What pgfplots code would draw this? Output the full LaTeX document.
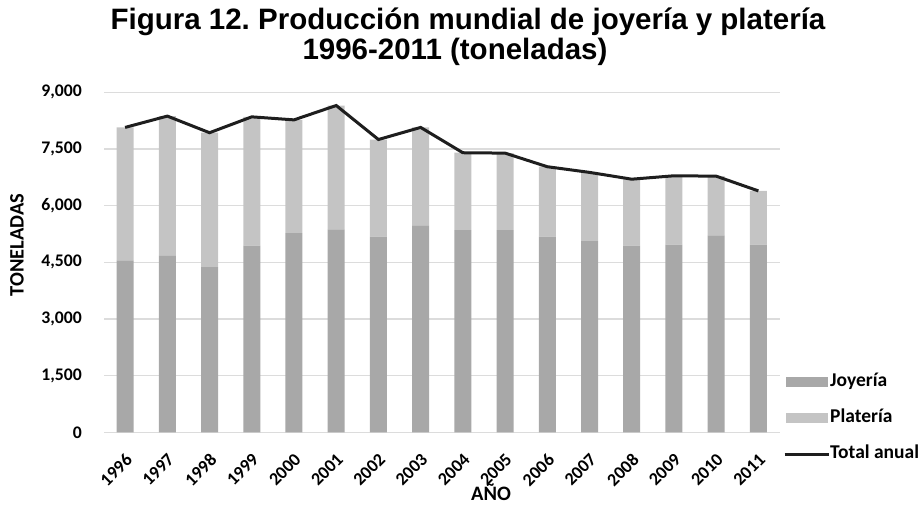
\documentclass[border=0pt]{standalone}
\usepackage{fontspec}
\setmainfont{Carlito}
\newfontfamily\titlefont{Liberation Sans}
\usepackage{pgfplots}
\pgfplotsset{compat=1.18}
\definecolor{joy}{RGB}{168,168,168}
\definecolor{pla}{RGB}{196,196,196}
\definecolor{gridc}{RGB}{220,220,220}
\definecolor{tot}{RGB}{30,30,30}
\pgfplotsset{common/.style={scale only axis, width=675.5pt, height=340pt,
  at={(104pt,73.7pt)}, anchor=south west, xmin=-0.5, xmax=15.5, ymin=0, ymax=9000},
  joyleg/.style={legend image code/.code={\fill[joy] (0pt,-4.5pt) rectangle (41pt,4.5pt);}},
  plaleg/.style={legend image code/.code={\fill[pla] (0pt,-4.5pt) rectangle (41pt,4.5pt);}},
  totleg/.style={legend image code/.code={\draw[tot, line width=3pt] (-1pt,0pt) -- (43pt,0pt);}}}
\frenchspacing
\begin{document}
\begin{tikzpicture}[x=1pt,y=1pt]
\path[use as bounding box] (0,0) rectangle (922,506);
\begin{axis}[common, ybar stacked, bar width=17pt, clip=false,
  axis line style={draw=none}, tick style={draw=none},
  ymajorgrids, grid style={gridc, line width=1.2pt},
  xtick=\empty,
  ytick={0,1500,3000,4500,6000,7500,9000},
  yticklabel style={anchor=east, inner sep=0pt, xshift=-22pt, font=\bfseries\fontsize{17.7}{20}\selectfont},
  /pgf/number format/.cd, assume math mode=true, 1000 sep={,}, fixed,
  ]
\addplot[fill=joy, draw=none] coordinates {(0,4550) (1,4670) (2,4370) (3,4940) (4,5270) (5,5370) (6,5180) (7,5480) (8,5350) (9,5350) (10,5180) (11,5060) (12,4940) (13,4970) (14,5210) (15,4970)};
\addplot[fill=pla, draw=none] coordinates {(0,3520) (1,3700) (2,3560) (3,3410) (4,3000) (5,3280) (6,2570) (7,2590) (8,2050) (9,2040) (10,1850) (11,1820) (12,1760) (13,1820) (14,1570) (15,1420)};
\pgfplotsinvokeforeach{0,...,15}{
  \node[rotate=45, anchor=north east, inner sep=0pt, font=\bfseries\fontsize{18}{20}\selectfont]
    at ([xshift=-0.5pt, yshift=-20pt]axis cs:#1,0) {\number\numexpr1996+#1\relax};
}
\end{axis}
\begin{axis}[common, hide axis,
  legend style={at={(rel axis cs:1.0052,0.042)}, anchor=west, draw=none, fill=none,
    inner sep=0pt, row sep=19pt, font=\bfseries\fontsize{19.5}{22}\selectfont,
    nodes={inner sep=0pt, text height=13pt, text depth=4pt}},
  legend cell align=left,
  /tikz/every even column/.style={column sep=5pt}]
\addlegendimage{joyleg}
\addlegendentry{Joyería}
\addlegendimage{plaleg}
\addlegendentry{Platería}
\addplot[tot, line width=3pt, totleg] coordinates {(0,8070) (1,8370) (2,7930) (3,8350) (4,8270) (5,8650) (6,7750) (7,8070) (8,7400) (9,7390) (10,7030) (11,6880) (12,6700) (13,6790) (14,6780) (15,6390)};
\addlegendentry{Total anual}
\end{axis}
\node[anchor=base, font=\titlefont\bfseries\fontsize{29.5}{33}\selectfont] at (468,476.7) {Figura 12. Producción mundial de joyería y platería};
\node[anchor=base, font=\titlefont\bfseries\fontsize{29.5}{33}\selectfont] at (455,446) {1996-2011 (toneladas)};
\node[anchor=base, font=\bfseries\fontsize{20.5}{22}\selectfont] at (491,5) {AÑO};
\node[rotate=90, font=\bfseries\fontsize{20.5}{22}\selectfont] at (17,261) {TONELADAS};
\end{tikzpicture}
\end{document}
